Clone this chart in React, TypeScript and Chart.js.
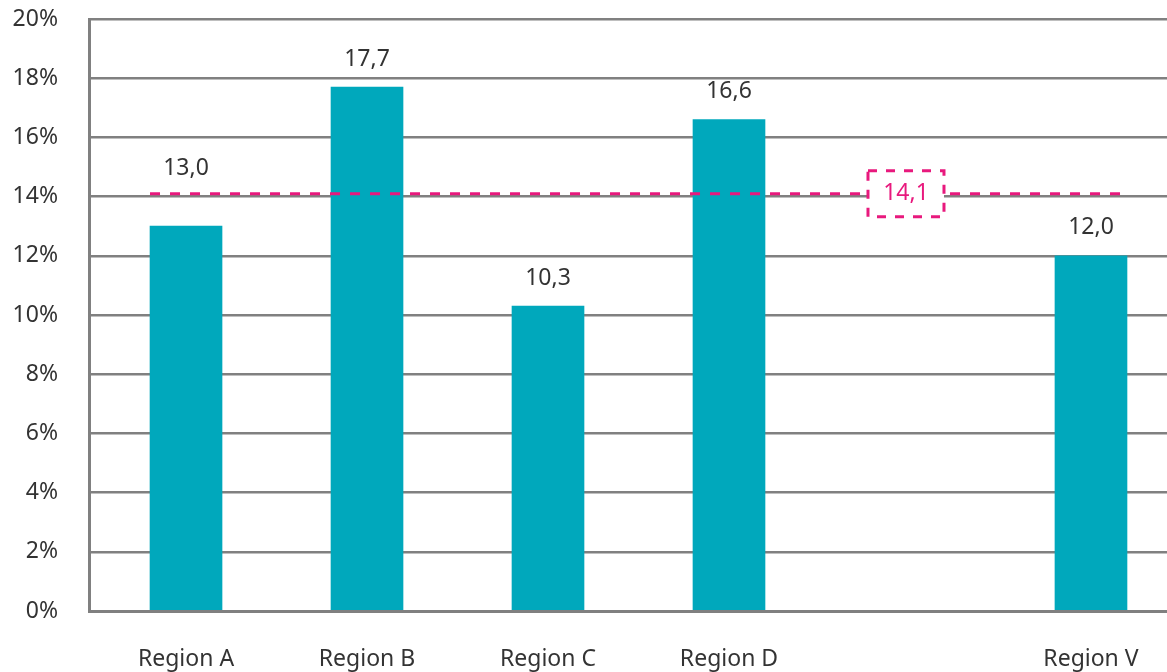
import React, { useEffect, useRef } from "react";
import { Chart, registerables } from "chart.js";

Chart.register(...registerables);

const categories: string[] = ["Region A", "Region B", "Region C", "Region D", "", "Region V"];
const values: (number | null)[] = [13.0, 17.7, 10.3, 16.6, null, 12.0];
const averageValue = 14.1;
const averageSlot = 4;
const yTicks: number[] = [0, 2, 4, 6, 8, 10, 12, 14, 16, 18, 20];

const FONT = "'Noto Sans', sans-serif";
const TEXT = "#333333";
const GRID = "#808080";
const BAR = "#00A8BC";
const PINK = "#E8197D";

const fmt = (v: number) => v.toFixed(1).replace(".", ",");

const overlayPlugin = {
  id: "overlay",
  afterDatasetsDraw(chart: any) {
    const { ctx } = chart;
    const xs = chart.scales.x;
    const ys = chart.scales.y;
    const meta = chart.getDatasetMeta(0);
    const bars = meta.data.filter((_: any, i: number) => values[i] != null);
    const first = bars[0];
    const last = bars[bars.length - 1];
    const ly = ys.getPixelForValue(averageValue);
    const x0 = first.x - first.width / 2;
    const x1 = last.x + last.width / 2;

    ctx.save();
    ctx.strokeStyle = PINK;
    ctx.lineWidth = 3;
    ctx.setLineDash([10, 10]);
    ctx.beginPath();
    ctx.moveTo(x0, ly);
    ctx.lineTo(x1, ly);
    ctx.stroke();

    const bx = xs.getPixelForValue(averageSlot) - 4;
    const bw = 76;
    const bh = 46;
    ctx.setLineDash([9, 9]);
    ctx.fillStyle = "#ffffff";
    ctx.fillRect(bx - bw / 2, ly - bh / 2, bw, bh);
    ctx.strokeRect(bx - bw / 2, ly - bh / 2, bw, bh);
    ctx.setLineDash([]);
    ctx.fillStyle = PINK;
    ctx.font = `23px ${FONT}`;
    ctx.textAlign = "center";
    ctx.textBaseline = "middle";
    ctx.fillText(fmt(averageValue), bx, ly);

    ctx.fillStyle = TEXT;
    meta.data.forEach((el: any, i: number) => {
      const v = values[i];
      if (v == null) return;
      let ty = el.y - 28;
      if (Math.abs(ty - ly) < 22) ty = ly - 25;
      ctx.fillText(fmt(v), el.x, ty);
    });
    ctx.restore();
  },
};

export default function App() {
  const ref = useRef<HTMLCanvasElement>(null);

  useEffect(() => {
    if (!ref.current) return;
    const chart = new Chart(ref.current, {
      type: "bar",
      data: {
        datasets: [
          {
            data: values.map((v, i) => ({ x: i, y: v })) as any,
            backgroundColor: BAR,
            barThickness: 72,
          },
        ],
      },
      options: {
        responsive: false,
        animation: false,
        layout: { padding: 0 },
        plugins: { legend: { display: false }, tooltip: { enabled: false } },
        scales: {
          x: {
            type: "linear",
            offset: false,
            min: -0.536,
            max: 5.42,
            afterBuildTicks: (s: any) => {
              s.ticks = categories.map((_, i) => ({ value: i }));
            },
            afterFit: (s: any) => {
              s.height = 61;
              s.paddingLeft = 0;
              s.paddingRight = 0;
            },
            grid: { display: false, drawTicks: false },
            border: { display: true, color: GRID, width: 3 },
            ticks: {
              autoSkip: false,
              maxRotation: 0,
              padding: 35,
              color: TEXT,
              font: { family: FONT, size: 23 },
              callback: (v: any) => categories[v as number] ?? "",
            },
          },
          y: {
            min: 0,
            max: 20,
            afterBuildTicks: (s: any) => {
              s.ticks = yTicks.map((v) => ({ value: v }));
            },
            afterFit: (s: any) => {
              s.width = 89;
              s.paddingTop = 19;
              s.paddingBottom = 0;
            },
            grid: { color: GRID, lineWidth: 2.5, drawTicks: false },
            border: { display: true, color: GRID, width: 3 },
            ticks: {
              padding: 31,
              color: TEXT,
              font: { family: FONT, size: 23 },
              callback: (v: any) => `${v}%`,
            },
          },
        },
      },
      plugins: [overlayPlugin],
    });
    return () => chart.destroy();
  }, []);

  return (
    <canvas
      ref={ref}
      width={1167}
      height={672}
      style={{ position: "fixed", left: 0, top: 0, display: "block", width: 1167, height: 672 }}
    />
  );
}
